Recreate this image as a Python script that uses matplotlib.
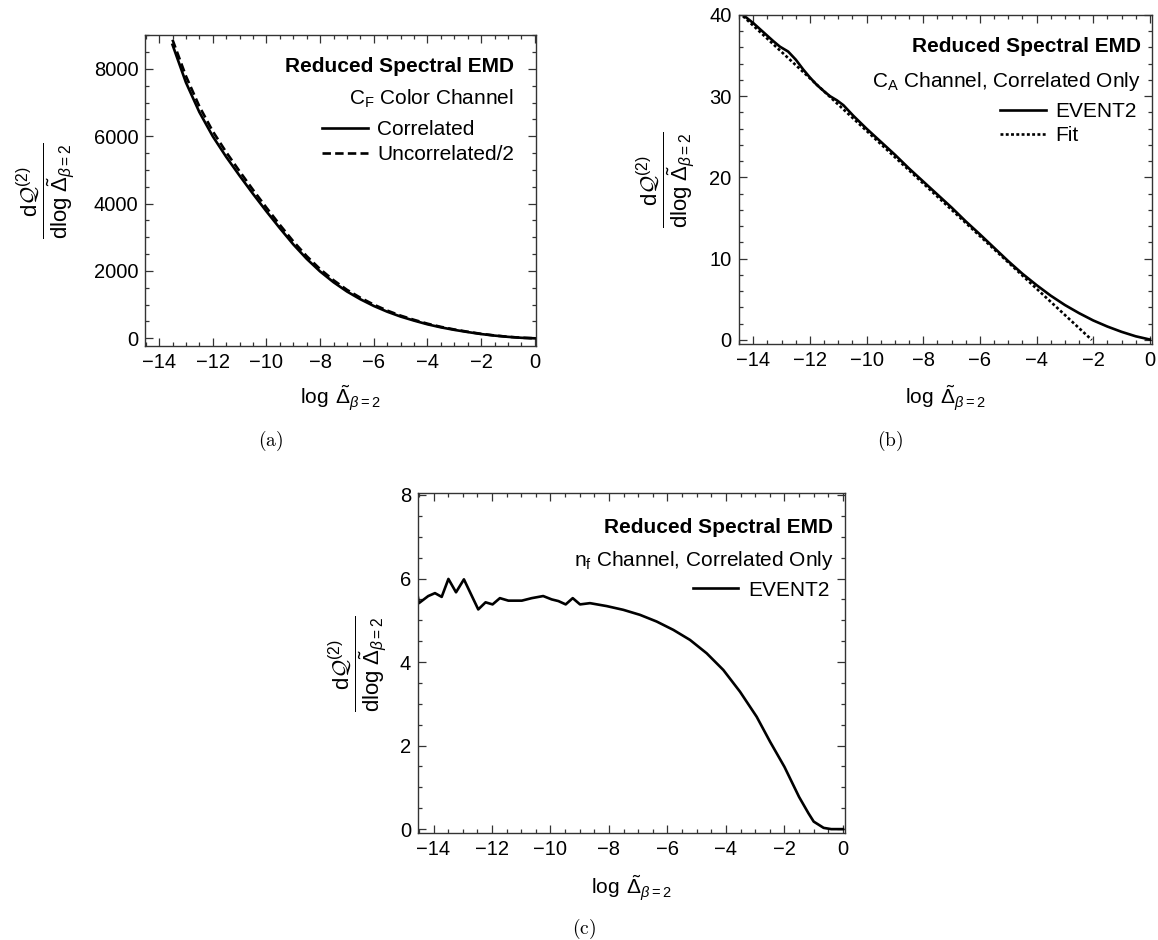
import numpy as np
import matplotlib
matplotlib.use("Agg")
import matplotlib.pyplot as plt
from matplotlib.ticker import MultipleLocator

plt.rcParams['font.family'] = ['Liberation Sans', 'DejaVu Sans']
plt.rcParams['mathtext.fontset'] = 'custom'
plt.rcParams['mathtext.rm'] = 'Liberation Sans'
plt.rcParams['mathtext.it'] = 'Liberation Sans:italic'
plt.rcParams['mathtext.bf'] = 'Liberation Sans:bold'
plt.rcParams['mathtext.sf'] = 'Liberation Sans'
plt.rcParams['mathtext.cal'] = 'cmsy10'
plt.rcParams['axes.unicode_minus'] = True

# (a) C_F colour channel
xa = [-13.5, -13.0, -12.5, -12.0, -11.5, -11.0, -10.5, -10.0, -9.5, -9.0, -8.5, -8.0, -7.5, -7.0,
      -6.5, -6.0, -5.5, -5.0, -4.5, -4.0, -3.5, -3.0, -2.5, -2.0, -1.5, -1.0, -0.5, 0.0]
corr_a = [8720, 7600, 6720, 6000, 5390, 4830, 4290, 3770, 3270, 2790, 2360, 1985, 1665, 1390,
          1160, 960, 790, 645, 525, 415, 325, 250, 185, 126, 80, 43, 15, 0]
uncorr_a = [8870, 7790, 6890, 6150, 5530, 4960, 4410, 3880, 3370, 2880, 2440, 2055, 1725, 1440,
            1205, 1000, 823, 673, 548, 434, 340, 262, 194, 132, 84, 45, 16, 0]

# (b) C_A channel, correlated only
xb = [-14.4, -14.0, -13.65, -13.3, -13.06, -12.77, -12.5, -12.24, -12.0, -11.76, -11.5, -11.29,
      -11.05, -10.82, -10.47, -10.0, -9.5, -9.0, -8.5, -8.0, -7.5, -7.0, -6.5, -6.0, -5.5, -5.0,
      -4.5, -4.0, -3.5, -3.0, -2.5, -2.0, -1.5, -1.0, -0.5, 0.0]
event2_b = [40.1, 39.0, 37.9, 36.8, 36.1, 35.5, 34.5, 33.3, 32.3, 31.4, 30.6, 30.0,
            29.5, 28.9, 27.6, 26.0, 24.4, 22.8, 21.1, 19.5, 17.9, 16.3, 14.6, 13.0, 11.35, 9.7,
            8.15, 6.75, 5.45, 4.3, 3.3, 2.4, 1.65, 1.0, 0.45, 0.05]
fit_xb = [-14.5, -2.05]
fit_yb = [40.3, 0.0]

# (c) n_f channel, correlated only
xc = [-14.57, -14.5, -14.18, -13.95, -13.72, -13.49, -13.23, -12.96, -12.47, -12.22, -11.98,
      -11.73, -11.44, -10.98, -10.64, -10.25, -9.96, -9.73, -9.48, -9.24, -8.99, -8.65, -8.08,
      -7.51, -6.94, -6.37, -5.80, -5.23, -4.66, -4.09, -3.52, -2.95, -2.49, -2.0, -1.5, -1.18,
      -1.0, -0.66, -0.4, 0.0]
event2_c = [5.72, 5.41, 5.58, 5.65, 5.56, 5.99, 5.67, 5.98, 5.26, 5.43, 5.38,
            5.53, 5.47, 5.47, 5.53, 5.58, 5.50, 5.46, 5.38, 5.53, 5.38, 5.41, 5.34,
            5.25, 5.13, 4.97, 4.77, 4.53, 4.21, 3.81, 3.29, 2.69, 2.09, 1.49, 0.77, 0.38,
            0.18, 0.03, 0.0, 0.0]

ylab = r'$\dfrac{\mathrm{d}\mathcal{Q}^{(2)}}{\mathrm{dlog}\;\tilde{\Delta}_{\beta=2}}$'
xlab = r'$\log\;\tilde{\Delta}_{\beta=2}$'
FS = 15      # legend / header text
TFS = 14.5   # tick labels
LW = 1.9

fig = plt.figure(figsize=(11.58, 9.4), dpi=100)
W, H = 1158.0, 940.0


def make_axes(l, r, t, b):
    return fig.add_axes([l / W, 1 - b / H, (r - l) / W, (b - t) / H])


def style(ax, xmin, xmax, ymin, ymax, ymaj, ymin_step, ylab_x, xlab_y):
    ax.set_xlim(xmin, xmax)
    ax.set_ylim(ymin, ymax)
    ax.xaxis.set_major_locator(MultipleLocator(2))
    ax.xaxis.set_minor_locator(MultipleLocator(0.5))
    ax.yaxis.set_major_locator(MultipleLocator(ymaj))
    ax.yaxis.set_minor_locator(MultipleLocator(ymin_step))
    ax.tick_params(which='both', direction='in', top=True, right=True, labelsize=TFS,
                   color='#333333', width=0.9, pad=5)
    ax.tick_params(which='major', length=6)
    ax.tick_params(which='minor', length=3)
    for s in ax.spines.values():
        s.set_color('#333333')
        s.set_linewidth(1.0)
    ax.set_ylabel(ylab, fontsize=16)
    ax.yaxis.set_label_coords(ylab_x, 0.5)
    ax.set_xlabel(xlab, fontsize=FS)
    ax.xaxis.label.set_verticalalignment('baseline')
    ax.xaxis.set_label_coords(0.5, xlab_y)


def header(ax, x, y1, y2, line2):
    ax.text(x, y1, 'Reduced Spectral EMD', transform=ax.transAxes, ha='right', va='center',
            fontsize=FS, fontweight='bold')
    ax.text(x, y2, line2, transform=ax.transAxes, ha='right', va='center', fontsize=FS)


def key(ax, right, top):
    ax.legend(loc='upper right', bbox_to_anchor=(right, top), frameon=False, fontsize=FS,
              handlelength=2.2, handletextpad=0.45, labelspacing=0.27, borderpad=0,
              borderaxespad=0)


# panel (a)
ax = make_axes(145.4, 535.9, 35.0, 345.7)
ax.plot(xa, corr_a, color='black', lw=LW, label='Correlated')
ax.plot(xa, uncorr_a, color='black', lw=LW, dashes=(3.2, 1.6), label='Uncorrelated/2')
style(ax, -14.51, 0.04, -220, 9010, 2000, 500, -0.175, -0.191)
header(ax, 0.944, 0.90, 0.793, r'C$_\mathrm{F}$ Color Channel')
key(ax, 0.944, 0.725)

# panel (b)
ax = make_axes(738.6, 1152.4, 15.0, 344.0)
ax.plot(xb, event2_b, color='black', lw=LW, label='EVENT2')
ax.plot(fit_xb, fit_yb, color='black', lw=LW, dashes=(1.1, 0.9), label='Fit')
style(ax, -14.52, 0.09, -0.5, 40.0, 10, 2, -0.1005, -0.185)
header(ax, 0.973, 0.904, 0.797, r'C$_\mathrm{A}$ Channel, Correlated Only')
key(ax, 0.962, 0.736)

# panel (c)
ax = make_axes(418.0, 845.0, 493.3, 833.3)
ax.plot(xc, event2_c, color='black', lw=LW, label='EVENT2')
style(ax, -14.53, 0.07, -0.1, 8.04, 2, 0.5, -0.068, -0.181)
header(ax, 0.973, 0.90, 0.803, r'n$_\mathrm{f}$ Channel, Correlated Only')
key(ax, 0.963, 0.743)

# sub-figure captions
for cx, cy, lab in [(271, 441, 'a'), (890, 441, 'b'), (583.5, 929, 'c')]:
    fig.text(cx / W, 1 - cy / H, r'$\mathrm{(' + lab + ')}$', ha='center', va='center',
             fontsize=14, math_fontfamily='cm')

fig.savefig('out.png', dpi=100)
